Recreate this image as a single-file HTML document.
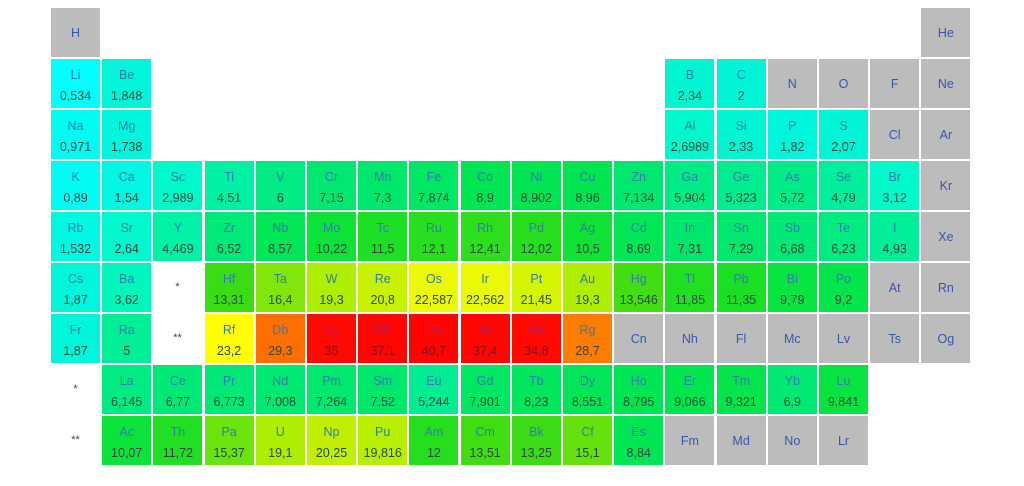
<!DOCTYPE html><html><head><meta charset="utf-8"><style>
body{margin:0;background:#fff;width:1024px;height:486px;position:relative;overflow:hidden;font-family:"Liberation Sans",sans-serif}
.c{position:absolute;width:49px;height:49px;text-align:center;font-size:12.5px}
.s{position:absolute;left:0;right:0;top:9px;color:#2f7fa8}
.n{position:absolute;left:0;right:0;top:30px;color:#2b4a3c}
.g .s{top:18px;color:#3956a8}
.r .s{color:#a0207a}.r .n{color:#8a1020}
.st{position:absolute;width:49px;text-align:center;font-size:11px;color:#444}
</style></head><body><div id="t"></div>
<script>
var D=[
[1,1,"H"],[1,18,"He"],
[2,1,"Li","0,534"],[2,2,"Be","1,848"],[2,13,"B","2,34"],[2,14,"C","2"],[2,15,"N"],[2,16,"O"],[2,17,"F"],[2,18,"Ne"],
[3,1,"Na","0,971"],[3,2,"Mg","1,738"],[3,13,"Al","2,6989"],[3,14,"Si","2,33"],[3,15,"P","1,82"],[3,16,"S","2,07"],[3,17,"Cl"],[3,18,"Ar"]];
function row(r,start,list){list.forEach(function(e,i){D.push([r,start+i,e[0],e[1]])})}
row(4,1,[["K","0,89"],["Ca","1,54"],["Sc","2,989"],["Ti","4,51"],["V","6"],["Cr","7,15"],["Mn","7,3"],["Fe","7,874"],["Co","8,9"],["Ni","8,902"],["Cu","8,96"],["Zn","7,134"],["Ga","5,904"],["Ge","5,323"],["As","5,72"],["Se","4,79"],["Br","3,12"],["Kr"]]);
row(5,1,[["Rb","1,532"],["Sr","2,64"],["Y","4,469"],["Zr","6,52"],["Nb","8,57"],["Mo","10,22"],["Tc","11,5"],["Ru","12,1"],["Rh","12,41"],["Pd","12,02"],["Ag","10,5"],["Cd","8,69"],["In","7,31"],["Sn","7,29"],["Sb","6,68"],["Te","6,23"],["I","4,93"],["Xe"]]);
row(6,1,[["Cs","1,87"],["Ba","3,62"]]);
row(6,4,[["Hf","13,31"],["Ta","16,4"],["W","19,3"],["Re","20,8"],["Os","22,587"],["Ir","22,562"],["Pt","21,45"],["Au","19,3"],["Hg","13,546"],["Tl","11,85"],["Pb","11,35"],["Bi","9,79"],["Po","9,2"],["At"],["Rn"]]);
row(7,1,[["Fr","1,87"],["Ra","5"]]);
row(7,4,[["Rf","23,2"],["Db","29,3"],["Sg","35"],["Bh","37,1"],["Hs","40,7"],["Mt","37,4"],["Ds","34,8"],["Rg","28,7"],["Cn"],["Nh"],["Fl"],["Mc"],["Lv"],["Ts"],["Og"]]);
row(8,2,[["La","6,145"],["Ce","6,77"],["Pr","6,773"],["Nd","7,008"],["Pm","7,264"],["Sm","7,52"],["Eu","5,244"],["Gd","7,901"],["Tb","8,23"],["Dy","8,551"],["Ho","8,795"],["Er","9,066"],["Tm","9,321"],["Yb","6,9"],["Lu","9,841"]]);
row(9,2,[["Ac","10,07"],["Th","11,72"],["Pa","15,37"],["U","19,1"],["Np","20,25"],["Pu","19,816"],["Am","12"],["Cm","13,51"],["Bk","13,25"],["Cf","15,1"],["Es","8,84"],["Fm"],["Md"],["No"],["Lr"]]);
var S=[[0.5,[0,255,255]],[2,[0,245,215]],[3.2,[0,250,200]],[5,[0,238,150]],[7.2,[0,232,110]],[9,[0,230,80]],[11,[20,225,40]],[13.3,[60,220,20]],[16.4,[130,230,10]],[19.3,[175,238,0]],[21,[205,242,0]],[22.6,[235,250,0]],[23.2,[255,255,0]],[29.3,[255,110,0]],[34,[255,10,0]],[45,[255,0,0]]];
function col(v){for(var i=0;i<S.length-1;i++){if(v<=S[i+1][0]){var a=S[i],b=S[i+1],t=Math.max(0,(v-a[0])/(b[0]-a[0]));return"rgb("+a[1].map(function(x,k){return Math.round(x+(b[1][k]-x)*t)}).join(",")+")"}}return"rgb(255,0,0)"}
var h="";
D.forEach(function(e){var x=51+(e[1]-1)*51.2,y=8+(e[0]-1)*51;
if(e[3]){var v=parseFloat(e[3].replace(",","."));h+='<div class="c'+(v>33?' r':'')+'" style="left:'+x+'px;top:'+y+'px;background:'+col(v)+'"><div class="s">'+e[2]+'</div><div class="n">'+e[3]+'</div></div>'}
else h+='<div class="c g" style="left:'+x+'px;top:'+y+'px;background:#bcbcbc"><div class="s">'+e[2]+'</div></div>'});
h+='<div class="st" style="left:153px;top:281px">*</div><div class="st" style="left:153px;top:332px">**</div><div class="st" style="left:51px;top:383px">*</div><div class="st" style="left:51px;top:434px">**</div>';
document.getElementById("t").innerHTML=h;
</script></body></html>
